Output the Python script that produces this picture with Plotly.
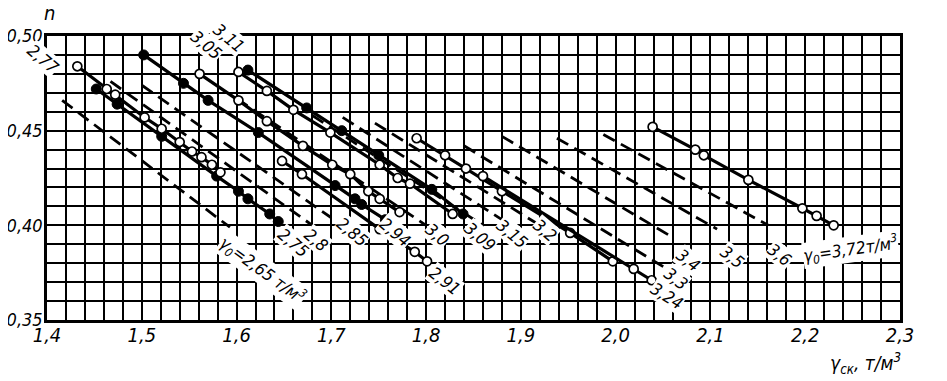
import plotly.graph_objects as go

# ---- axis tick labels ----
x_tick_vals = [1.4, 1.5, 1.6, 1.7, 1.8, 1.9, 2.0, 2.1, 2.2, 2.3]
x_tick_text = ["1,4", "1,5", "1,6", "1,7", "1,8", "1,9", "2,0", "2,1", "2,2", "2,3"]
y_tick_vals = [0.35, 0.40, 0.45, 0.50]
y_tick_text = ["0,35", "0,40", "0,45", "0,50"]

# ---- experimental (solid) lines: gamma_ck values and porosity n ----
s275_x = [1.452, 1.474, 1.521, 1.579, 1.602, 1.612, 1.635, 1.644]
s275_n = [0.472, 0.464, 0.447, 0.426, 0.418, 0.414, 0.406, 0.402]
s277_x = [1.432, 1.463, 1.472, 1.503, 1.521, 1.540, 1.553, 1.563, 1.574, 1.583]
s277_n = [0.484, 0.472, 0.469, 0.457, 0.451, 0.444, 0.439, 0.436, 0.432, 0.428]
s294_x = [1.502, 1.544, 1.570, 1.623, 1.704, 1.725, 1.732, 1.757]
s294_n = [0.490, 0.475, 0.466, 0.449, 0.421, 0.414, 0.411, 0.403]
s291_x = [1.648, 1.669, 1.751, 1.788, 1.801]
s291_n = [0.434, 0.427, 0.398, 0.386, 0.381]
s305_x = [1.561, 1.602, 1.632, 1.670, 1.701, 1.720, 1.739, 1.751, 1.772]
s305_n = [0.480, 0.466, 0.455, 0.442, 0.432, 0.427, 0.418, 0.414, 0.407]
s309_x = [1.602, 1.632, 1.660, 1.699, 1.751, 1.770, 1.783, 1.828]
s309_n = [0.481, 0.471, 0.461, 0.449, 0.432, 0.425, 0.422, 0.406]
s311_x = [1.612, 1.674, 1.711, 1.750, 1.806, 1.839]
s311_n = [0.482, 0.462, 0.450, 0.437, 0.419, 0.406]
s320_x = [1.790, 1.820, 1.842, 1.880, 1.952, 1.997]
s320_n = [0.446, 0.437, 0.430, 0.418, 0.396, 0.381]
s324_x = [1.860, 2.019, 2.038]
s324_n = [0.426, 0.377, 0.371]
s372_x = [2.039, 2.084, 2.093, 2.140, 2.197, 2.212, 2.230]
s372_n = [0.452, 0.440, 0.437, 0.424, 0.409, 0.405, 0.400]

solid_series = [
    (s275_x, s275_n, "filled"),
    (s277_x, s277_n, "open"),
    (s294_x, s294_n, "filled"),
    (s291_x, s291_n, "open"),
    (s305_x, s305_n, "open"),
    (s309_x, s309_n, "open"),
    (s311_x, s311_n, "filled"),
    (s320_x, s320_n, "open"),
    (s324_x, s324_n, "open"),
    (s372_x, s372_n, "open"),
]

# ---- theoretical (dashed) lines: end points ----
d265_x = [1.416, 1.593]; d265_n = [0.466, 0.399]
d280_x = [1.467, 1.680]; d280_n = [0.476, 0.400]
d285_x = [1.500, 1.700]; d285_n = [0.474, 0.404]
d300_x = [1.600, 1.800]; d300_n = [0.467, 0.400]
d310_x = [1.680, 1.860]; d310_n = [0.458, 0.400]
d315_x = [1.712, 1.880]; d315_n = [0.457, 0.403]
d320_x = [1.746, 1.920]; d320_n = [0.454, 0.400]
d330_x = [1.840, 2.054]; d330_n = [0.442, 0.377]
d340_x = [1.880, 2.059]; d340_n = [0.447, 0.394]
d350_x = [1.938, 2.107]; d350_n = [0.446, 0.398]
d360_x = [1.987, 2.161]; d360_n = [0.448, 0.400]

dashed_series = [
    (d265_x, d265_n), (d280_x, d280_n), (d285_x, d285_n), (d300_x, d300_n),
    (d310_x, d310_n), (d315_x, d315_n), (d320_x, d320_n), (d330_x, d330_n),
    (d340_x, d340_n), (d350_x, d350_n), (d360_x, d360_n),
]

# ---- line labels inside the plot (text, x, n, angle) ----
label_text = ["3,05", "3,11", "γ<sub>0</sub>=2,65 т/м<sup>3</sup>", "2,75", "2,8",
              "2,85", "2,94", "3,0", "3,09", "3,15", "3,2", "2,91", "3,24", "3,3",
              "3,4", "3,5", "3,6", "γ<sub>0</sub>=3,72т/м<sup>3</sup>"]
label_x = [1.568, 1.592, 1.627, 1.660, 1.684, 1.722, 1.767, 1.812, 1.857,
           1.891, 1.925, 1.820, 2.054, 2.064, 2.076, 2.123, 2.173, 2.248]
label_n = [0.4950, 0.4990, 0.3761, 0.3905, 0.3922, 0.3964, 0.3964, 0.3948,
           0.3938, 0.3954, 0.3975, 0.3708, 0.3628, 0.3719, 0.3815, 0.3831, 0.3841, 0.3873]
label_angle = [40, 40, 36, 40, 40, 40, 40, 40, 40, 40, 40, 38, 32, 38, 38, 38, 38, -8]

FONT = "Liberation Sans Narrow, DejaVu Sans Condensed, Liberation Sans, Arial, sans-serif"

fig = go.Figure()

for xs, ns in dashed_series:
    fig.add_trace(go.Scatter(x=xs, y=ns, mode="lines",
                             line=dict(color="black", width=2.8, dash="13px,7px"),
                             hoverinfo="skip", showlegend=False))

for xs, ns, kind in solid_series:
    if kind == "open":
        mk = dict(symbol="circle", size=9, color="white", line=dict(color="black", width=1.7))
    else:
        mk = dict(symbol="circle", size=10, color="black", line=dict(color="black", width=1))
    fig.add_trace(go.Scatter(x=xs, y=ns, mode="lines+markers",
                             line=dict(color="black", width=3.2),
                             marker=mk, hoverinfo="skip", showlegend=False))

for t, x, y, a in zip(label_text, label_x, label_n, label_angle):
    fig.add_annotation(x=x, y=y, xref="x", yref="y", text=t, showarrow=False,
                       textangle=a, bgcolor="white", borderpad=0,
                       font=dict(family=FONT, size=17, color="black", style="italic"))

# label "2,77" sits left of the frame, so place it in paper coordinates
fig.add_annotation(x=-0.029, y=0.99, xref="paper", yref="paper", text="2,77",
                   showarrow=False, textangle=40, bgcolor="white", borderpad=0,
                   font=dict(family=FONT, size=17, color="black", style="italic"))

fig.add_annotation(x=-0.006, y=1.03, xref="paper", yref="paper", yanchor="bottom",
                   text="n", showarrow=False,
                   font=dict(family=FONT, size=20, color="black", style="italic"))
fig.add_annotation(x=1.003, y=-0.1, xref="paper", yref="paper", yanchor="top",
                   text="γ<sub>ск</sub>, т/м<sup>3</sup>", showarrow=False,
                   font=dict(family=FONT, size=19, color="black", style="italic"))

fig.update_xaxes(range=[1.4, 2.3], tickvals=x_tick_vals, ticktext=x_tick_text,
                 showgrid=True, gridcolor="black", gridwidth=2,
                 minor=dict(dtick=0.02, tick0=1.4, showgrid=True, gridcolor="black", gridwidth=2),
                 showline=True, linecolor="black", linewidth=2.5, mirror=True,
                 ticks="", ticklen=0, zeroline=False, automargin=False,
                 ticklabelstandoff=-5,
                 tickfont=dict(family=FONT, size=20, color="black", style="italic"))
fig.update_yaxes(range=[0.35, 0.50], tickvals=y_tick_vals, ticktext=y_tick_text,
                 showgrid=True, gridcolor="black", gridwidth=2,
                 minor=dict(dtick=0.01, tick0=0.35, showgrid=True, gridcolor="black", gridwidth=2),
                 showline=True, linecolor="black", linewidth=2.5, mirror=True,
                 ticks="", ticklen=0, zeroline=False, automargin=False,
                 ticklabelstandoff=-2,
                 tickfont=dict(family=FONT, size=18, color="black", style="italic"))

fig.update_layout(width=939, height=373, margin=dict(l=39, r=47, t=28, b=61),
                  plot_bgcolor="white", paper_bgcolor="white", showlegend=False)

fig.write_html("out.html")
